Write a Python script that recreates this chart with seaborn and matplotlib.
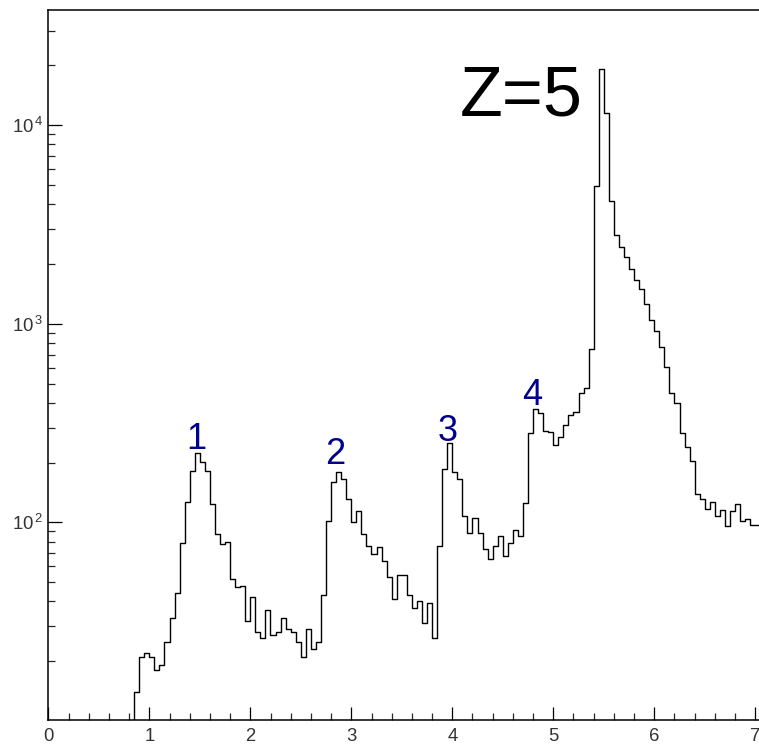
import numpy as np
import pandas as pd
import matplotlib
matplotlib.use("Agg")
import matplotlib.pyplot as plt
import seaborn as sns
from matplotlib.ticker import LogLocator, MultipleLocator, NullFormatter, FuncFormatter

# ---------------- data ----------------
bin_width = 0.05
bin_left = np.round(np.arange(0.0, 7.05, bin_width), 2)   # 0.00 ... 7.00  (141 bins)
counts = [
    # 0.00 - 0.80
    0, 0, 0, 0, 0, 0, 0, 0, 0, 0, 0, 0, 0, 0, 0, 0, 0,
    # 0.85 - 1.35
    14, 21, 22, 21, 18, 19, 25, 33, 44, 79, 126,
    # 1.40 - 1.90
    181, 223, 201, 182, 124, 87, 78, 80, 52, 47, 48,
    # 1.95 - 2.45
    32, 42, 28, 26, 36, 27, 28, 33, 29, 28, 25,
    # 2.50 - 3.00
    21, 29, 23, 25, 43, 101, 160, 180, 165, 131, 100,
    # 3.05 - 3.55
    114, 87, 76, 69, 75, 64, 53, 41, 54, 54, 43,
    # 3.60 - 4.10
    37, 40, 31, 39, 26, 76, 185, 250, 180, 165, 107,
    # 4.15 - 4.65
    88, 105, 88, 73, 65, 76, 85, 68, 79, 91, 85,
    # 4.70 - 5.20
    125, 282, 373, 354, 287, 285, 244, 270, 308, 346, 359,
    # 5.25 - 5.75
    447, 473, 745, 4945, 19150, 11580, 4170, 2793, 2428, 2178, 1880,
    # 5.80 - 6.30
    1655, 1490, 1258, 1046, 916, 767, 608, 447, 398, 281, 239,
    # 6.35 - 6.85
    203, 139, 131, 116, 127, 107, 115, 96, 114, 124, 101,
    # 6.90 - 7.00
    104, 97, 97,
]

peak_labels = ["1", "2", "3", "4"]
peak_x = [1.47, 2.845, 3.955, 4.79]
peak_y = [233, 197, 258, 390]

title_text = "Z=5"
title_x = 4.07
title_y = 11170

# ---------------- style ----------------
sns.set_theme(style="white")
plt.rcParams['font.family'] = ['Liberation Sans', 'DejaVu Sans']
plt.rcParams['mathtext.fontset'] = 'custom'
plt.rcParams['mathtext.rm'] = 'Liberation Sans'
plt.rcParams['mathtext.it'] = 'Liberation Sans:italic'
plt.rcParams['mathtext.bf'] = 'Liberation Sans:bold'

fig = plt.figure(figsize=(7.59, 7.5), dpi=100)
fig.patch.set_facecolor("white")
left_px, right_px, top_px, bottom_px = 48.3, 759.0, 9.5, 720.0
ax = fig.add_axes([left_px / 759, (750 - bottom_px) / 750,
                   (right_px - left_px) / 759, (bottom_px - top_px) / 750])
ax.set_facecolor("white")

df = pd.DataFrame({"x": bin_left + bin_width / 2, "w": counts})
sns.histplot(data=df, x="x", weights="w", binwidth=bin_width,
             binrange=(0.0, 7.05), element="step",
             fill=False, color="black", linewidth=1.0, ax=ax)

ax.set_yscale("log")
px_per_unit = 101.0
ax.set_xlim(0, (right_px - left_px) / px_per_unit)
ax.set_ylim(10 ** 1.004, 10 ** 4.583)
ax.set_xlabel("")
ax.set_ylabel("")

# ticks
ax.xaxis.set_major_locator(MultipleLocator(1))
ax.xaxis.set_minor_locator(MultipleLocator(0.2))
ax.xaxis.set_major_formatter(FuncFormatter(lambda v, p: f"{int(round(v))}"))
ax.yaxis.set_major_locator(LogLocator(base=10))
ax.yaxis.set_minor_locator(LogLocator(base=10, subs=np.arange(2, 10)))
ax.yaxis.set_minor_formatter(NullFormatter())
ax.yaxis.set_major_formatter(FuncFormatter(lambda v, p: r"$10^{\,%d}$" % int(round(np.log10(v)))))

ax.tick_params(axis="x", which="major", direction="in", length=9.5, width=0.9,
               labelsize=13.3, pad=6, colors="black", labelcolor="#333333",
               top=False, bottom=True)
ax.tick_params(axis="x", which="minor", direction="in", length=4.8, width=0.9,
               top=False, bottom=True)
ax.tick_params(axis="y", which="major", direction="in", length=10, width=0.9,
               labelsize=13.3, pad=3.5, colors="black", labelcolor="#333333",
               left=True, right=False)
ax.tick_params(axis="y", which="minor", direction="in", length=5, width=0.9,
               left=True, right=False)

for side in ["left", "bottom", "top"]:
    ax.spines[side].set_visible(True)
    ax.spines[side].set_color("black")
    ax.spines[side].set_linewidth(1.1)
ax.spines["right"].set_visible(False)

# annotations
for lab, xx, yy in zip(peak_labels, peak_x, peak_y):
    ax.text(xx, yy, lab, color="#000090", fontsize=26, ha="center", va="baseline")
ax.text(title_x, title_y, title_text, color="black", fontsize=50.5,
        ha="left", va="baseline")

fig.savefig("out.png", dpi=100, facecolor="white")
